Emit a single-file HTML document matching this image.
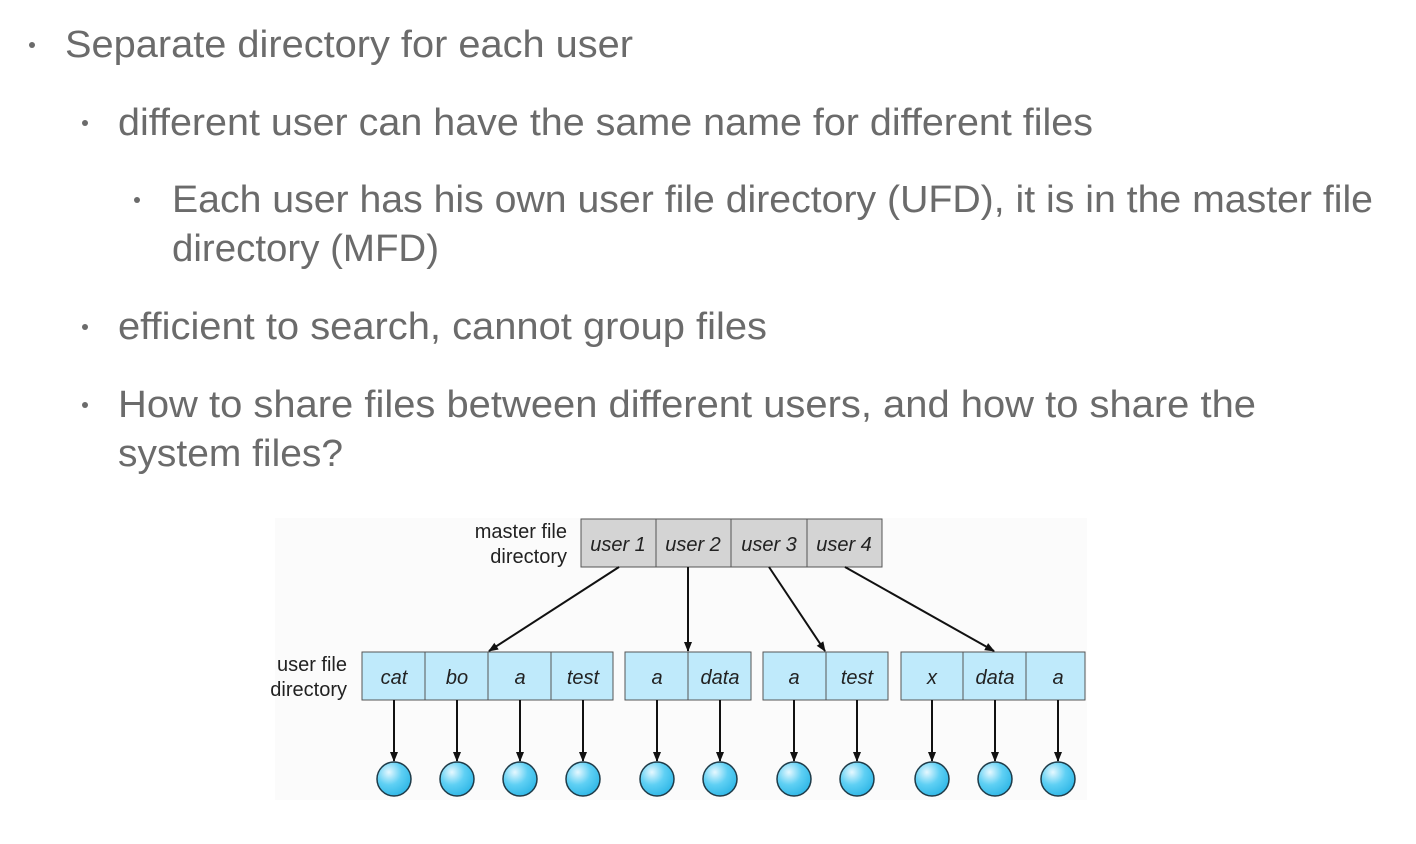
<!DOCTYPE html>
<html><head><meta charset="utf-8"><style>
html,body{margin:0;padding:0;background:#fff;}
svg{display:block;}
</style></head><body>
<svg width="1416" height="844" viewBox="0 0 1416 844" xmlns="http://www.w3.org/2000/svg" font-family="Liberation Sans, sans-serif">
<g fill="#6b6b6b" font-size="38">
<circle cx="32" cy="45" r="3"/>
<circle cx="85" cy="123" r="3"/>
<circle cx="137" cy="200" r="3"/>
<circle cx="85" cy="327" r="3"/>
<circle cx="85" cy="405" r="3"/>
<text x="65" y="57" textLength="568" lengthAdjust="spacingAndGlyphs">Separate directory for each user</text>
<text x="118" y="135" textLength="975" lengthAdjust="spacingAndGlyphs">different user can have the same name for different files</text>
<text x="172" y="212" textLength="1201" lengthAdjust="spacingAndGlyphs">Each user has his own user file directory (UFD), it is in the master file</text>
<text x="172" y="261" textLength="267" lengthAdjust="spacingAndGlyphs">directory (MFD)</text>
<text x="118" y="339" textLength="649" lengthAdjust="spacingAndGlyphs">efficient to search, cannot group files</text>
<text x="118" y="417" textLength="1138" lengthAdjust="spacingAndGlyphs">How to share files between different users, and how to share the</text>
<text x="118" y="466" textLength="225" lengthAdjust="spacingAndGlyphs">system files?</text>
</g>
<rect x="275" y="518" width="812" height="282" fill="#fbfbfb"/>
<defs>
<marker id="ah" markerWidth="10" markerHeight="10" refX="9" refY="5" orient="auto" markerUnits="userSpaceOnUse">
<path d="M0,1 L10,5 L0,9 Z" fill="#111"/>
</marker>
<radialGradient id="bg" cx="0.35" cy="0.3" r="0.75">
<stop offset="0" stop-color="#e6f8ff"/><stop offset="0.5" stop-color="#5fd0f4"/><stop offset="1" stop-color="#2eb6e6"/>
</radialGradient>
</defs>
<g font-size="20" fill="#222" text-anchor="end">
<text x="567" y="538">master file</text>
<text x="567" y="563">directory</text>
<text x="347" y="671">user file</text>
<text x="347" y="696">directory</text>
</g>
<g stroke="#555" stroke-width="1">
<rect x="581" y="519" width="301" height="48" fill="#d4d4d4"/>
<line x1="656" y1="519" x2="656" y2="567"/><line x1="731" y1="519" x2="731" y2="567"/><line x1="807" y1="519" x2="807" y2="567"/>
<g fill="#bfeafb">
<rect x="362" y="652" width="251" height="48"/>
<rect x="625" y="652" width="126" height="48"/>
<rect x="763" y="652" width="125" height="48"/>
<rect x="901" y="652" width="184" height="48"/>
</g>
<line x1="425" y1="652" x2="425" y2="700"/><line x1="488" y1="652" x2="488" y2="700"/><line x1="551" y1="652" x2="551" y2="700"/>
<line x1="688" y1="652" x2="688" y2="700"/><line x1="826" y1="652" x2="826" y2="700"/>
<line x1="963" y1="652" x2="963" y2="700"/><line x1="1026" y1="652" x2="1026" y2="700"/>
</g>
<g font-size="20" font-style="italic" fill="#222" text-anchor="middle">
<text x="618" y="551">user 1</text><text x="693" y="551">user 2</text><text x="769" y="551">user 3</text><text x="844" y="551">user 4</text>
<text x="394" y="684">cat</text><text x="457" y="684">bo</text><text x="520" y="684">a</text><text x="583" y="684">test</text>
<text x="657" y="684">a</text><text x="720" y="684">data</text>
<text x="794" y="684">a</text><text x="857" y="684">test</text>
<text x="932" y="684">x</text><text x="995" y="684">data</text><text x="1058" y="684">a</text>
</g>
<g stroke="#111" stroke-width="2" marker-end="url(#ah)">
<line x1="619" y1="567" x2="489" y2="651"/>
<line x1="688" y1="567" x2="688" y2="651"/>
<line x1="769" y1="567" x2="825" y2="651"/>
<line x1="845" y1="567" x2="994" y2="651"/>
<line x1="394" y1="700" x2="394" y2="761"/>
<line x1="457" y1="700" x2="457" y2="761"/>
<line x1="520" y1="700" x2="520" y2="761"/>
<line x1="583" y1="700" x2="583" y2="761"/>
<line x1="657" y1="700" x2="657" y2="761"/>
<line x1="720" y1="700" x2="720" y2="761"/>
<line x1="794" y1="700" x2="794" y2="761"/>
<line x1="857" y1="700" x2="857" y2="761"/>
<line x1="932" y1="700" x2="932" y2="761"/>
<line x1="995" y1="700" x2="995" y2="761"/>
<line x1="1058" y1="700" x2="1058" y2="761"/>
</g>
<g fill="url(#bg)" stroke="#1f3b48" stroke-width="1.5">
<circle cx="394" cy="779" r="17"/><circle cx="457" cy="779" r="17"/><circle cx="520" cy="779" r="17"/><circle cx="583" cy="779" r="17"/>
<circle cx="657" cy="779" r="17"/><circle cx="720" cy="779" r="17"/><circle cx="794" cy="779" r="17"/><circle cx="857" cy="779" r="17"/>
<circle cx="932" cy="779" r="17"/><circle cx="995" cy="779" r="17"/><circle cx="1058" cy="779" r="17"/>
</g>
</svg>
</body></html>
